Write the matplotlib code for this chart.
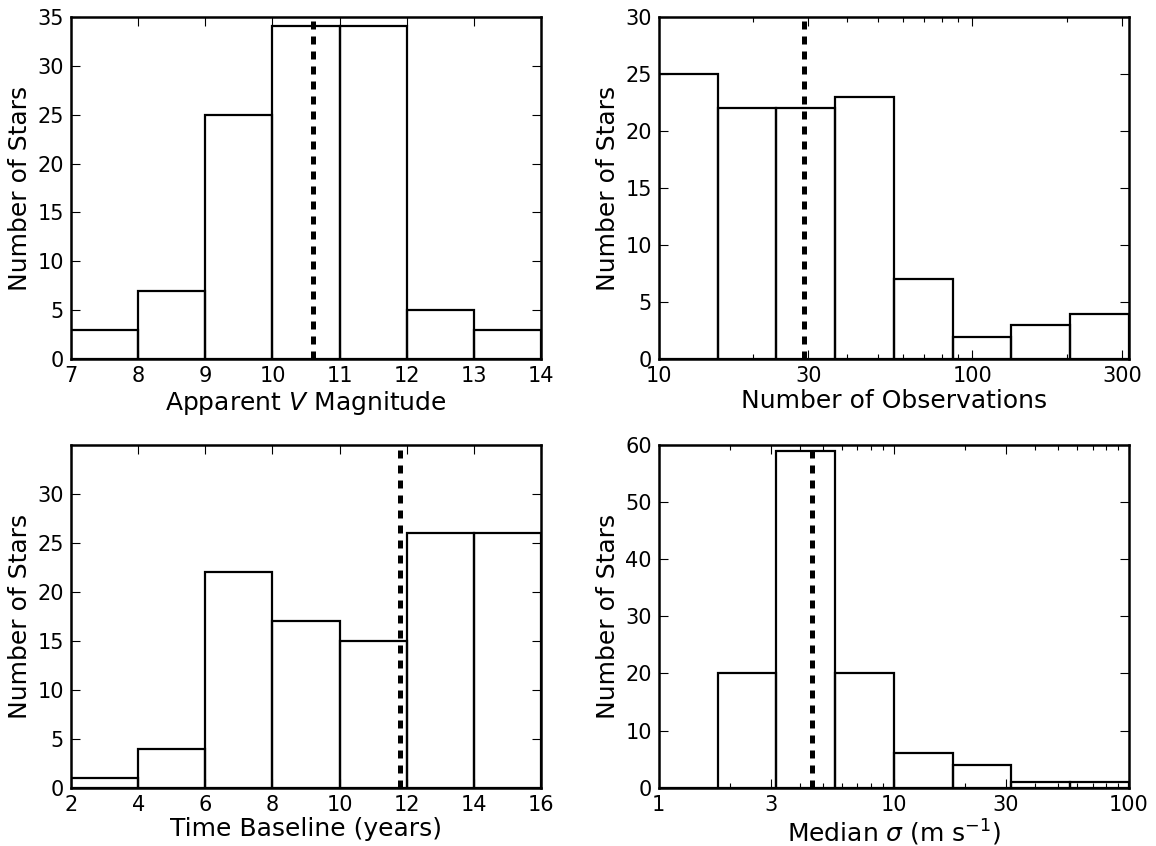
import numpy as np
import matplotlib
matplotlib.use("Agg")
import matplotlib.pyplot as plt
from matplotlib.ticker import FixedLocator, FixedFormatter, LogLocator, NullFormatter

# ---- data ----
vmag_edges = [7, 8, 9, 10, 11, 12, 13, 14]
vmag_counts = [3, 7, 25, 34, 34, 5, 3]
vmag_median = 10.6

nobs_edges = list(np.logspace(1, 2.5, 9))
nobs_counts = [25, 22, 22, 23, 7, 2, 3, 4]
nobs_median = 29

base_edges = [2, 4, 6, 8, 10, 12, 14, 16]
base_counts = [1, 4, 22, 17, 15, 26, 26]
base_median = 11.8

sig_edges = list(np.logspace(0, 2, 9))
sig_counts = [0, 20, 59, 20, 6, 4, 1, 1]
sig_median = 4.5

TICK_FS = 15
LABEL_FS = 18

fig, axes = plt.subplots(2, 2, figsize=(11.56, 8.46), dpi=100)
fig.subplots_adjust(left=0.0614, right=0.9766, top=0.9803, bottom=0.0689,
                    wspace=0.25, hspace=0.25)


def draw(ax, edges, counts, median, logx=False):
    edges = np.asarray(edges, dtype=float)
    ax.bar(edges[:-1], counts, width=np.diff(edges), align='edge',
           fill=False, edgecolor='black', linewidth=1.6, zorder=2)
    ax.axvline(median, color='black', linewidth=3.6,
               linestyle=(0, (1.6, 1.4)), zorder=3)
    if logx:
        ax.set_xscale('log')
    for s in ax.spines.values():
        s.set_linewidth(1.8)
        s.set_zorder(4)
    ax.tick_params(which='both', direction='in', top=True, right=True,
                   labelsize=TICK_FS, width=0.8)
    ax.tick_params(which='major', length=6.5, pad=5)
    ax.tick_params(which='minor', length=3.6)
    ax.set_ylabel('Number of Stars', fontsize=LABEL_FS, labelpad=4)


ax = axes[0, 0]
draw(ax, vmag_edges, vmag_counts, vmag_median)
ax.set_xlim(7, 14)
ax.set_ylim(0, 35)
ax.set_xticks(range(7, 15))
ax.set_yticks(range(0, 36, 5))
ax.set_xlabel('Apparent $V$ Magnitude', fontsize=LABEL_FS, labelpad=2)

ax = axes[0, 1]
draw(ax, nobs_edges, nobs_counts, nobs_median, logx=True)
ax.set_xlim(10, 10 ** 2.5)
ax.set_ylim(0, 30)
ax.xaxis.set_major_locator(FixedLocator([10, 30, 100, 300]))
ax.xaxis.set_major_formatter(FixedFormatter(['10', '30', '100', '300']))
ax.xaxis.set_minor_locator(LogLocator(base=10, subs=np.arange(2, 10)))
ax.xaxis.set_minor_formatter(NullFormatter())
ax.set_yticks(range(0, 31, 5))
ax.set_xlabel('Number of Observations', fontsize=LABEL_FS, labelpad=2)

ax = axes[1, 0]
draw(ax, base_edges, base_counts, base_median)
ax.set_xlim(2, 16)
ax.set_ylim(0, 35)
ax.set_xticks(range(2, 17, 2))
ax.set_yticks(range(0, 31, 5))
ax.set_xlabel('Time Baseline (years)', fontsize=LABEL_FS, labelpad=2)

ax = axes[1, 1]
draw(ax, sig_edges, sig_counts, sig_median, logx=True)
ax.set_xlim(1, 100)
ax.set_ylim(0, 60)
ax.xaxis.set_major_locator(FixedLocator([1, 3, 10, 30, 100]))
ax.xaxis.set_major_formatter(FixedFormatter(['1', '3', '10', '30', '100']))
ax.xaxis.set_minor_locator(LogLocator(base=10, subs=np.arange(2, 10)))
ax.xaxis.set_minor_formatter(NullFormatter())
ax.set_yticks(range(0, 61, 10))
ax.set_xlabel(r'Median $\sigma$ (m s$^{-1}$)', fontsize=LABEL_FS, labelpad=2)

fig.savefig('out.png', dpi=100)
